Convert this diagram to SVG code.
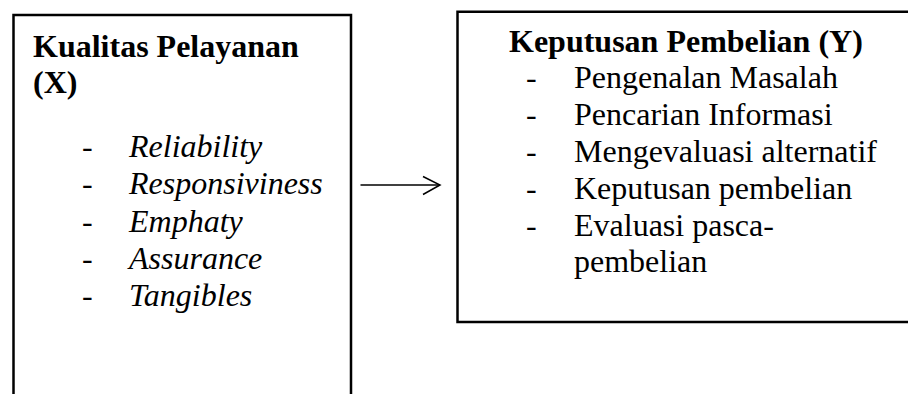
<svg xmlns="http://www.w3.org/2000/svg" width="908" height="394" viewBox="0 0 908 394">
<style>
.box{fill:none;stroke:#000;stroke-width:2.5}
.t{font-family:"Liberation Serif","Times New Roman",serif;font-size:32px;fill:#000}
.b{font-weight:bold}
.i{font-style:italic}
.conn{fill:none;stroke:#000;stroke-width:1.5}
</style>
<rect width="908" height="394" fill="#fff"/>
<g id="node-x">
<path class="box" d="M13.5,400 V15 H351 V400"/>
<text class="t b" x="33" y="57">Kualitas Pelayanan</text>
<text class="t b" x="33" y="93">(X)</text>
<text class="t" x="82" y="157">-</text>
<text class="t i" x="129" y="157">Reliability</text>
<text class="t" x="82" y="194">-</text>
<text class="t i" x="129" y="194">Responsiviness</text>
<text class="t" x="82" y="232">-</text>
<text class="t i" x="129" y="232">Emphaty</text>
<text class="t" x="82" y="269">-</text>
<text class="t i" x="129" y="269">Assurance</text>
<text class="t" x="82" y="306">-</text>
<text class="t i" x="129" y="306">Tangibles</text>
</g>
<g id="node-y">
<path class="box" d="M915,11.7 H457.5 V322 H915"/>
<text class="t b" x="509" y="52">Keputusan Pembelian (Y)</text>
<text class="t" x="526" y="88">-</text>
<text class="t" x="574" y="88">Pengenalan Masalah</text>
<text class="t" x="526" y="125">-</text>
<text class="t" x="574" y="125">Pencarian Informasi</text>
<text class="t" x="526" y="162">-</text>
<text class="t" x="574" y="162">Mengevaluasi alternatif</text>
<text class="t" x="526" y="199">-</text>
<text class="t" x="574" y="199">Keputusan pembelian</text>
<text class="t" x="526" y="236">-</text>
<text class="t" x="574" y="236">Evaluasi pasca-</text>
<text class="t" x="574" y="272">pembelian</text>
</g>
<g id="connectors">
<path class="conn" d="M360.5,185 H440"/>
<path class="conn" d="M423,176.5 L440,185 L423,194.5"/>
</g>
</svg>
